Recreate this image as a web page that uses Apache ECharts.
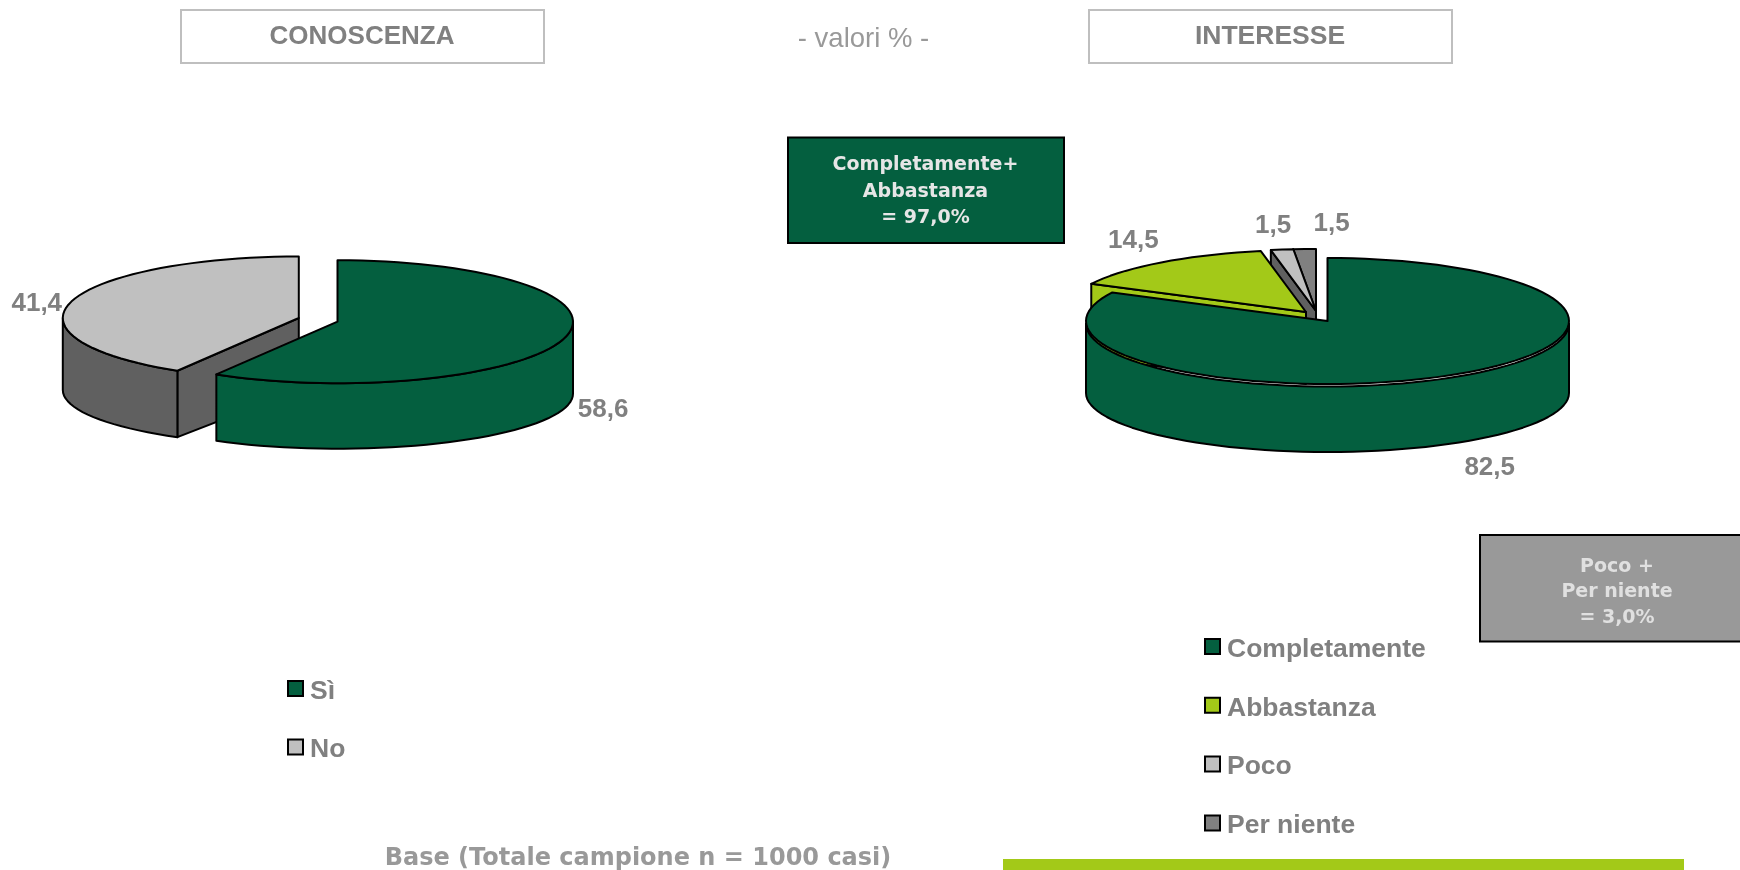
<!DOCTYPE html>
<html><head><meta charset="utf-8">
<style>html,body{margin:0;padding:0;background:#fff}#c{width:1740px;height:870px}</style>
<script src="https://cdn.jsdelivr.net/npm/echarts@6/dist/echarts.min.js"></script>
</head><body><div id="c"></div>
<script>
// ---- data ----
const conoscenzaCategories = ['Sì', 'No'];
const conoscenzaValues = [58.6, 41.4];
const interesseCategories = ['Completamente', 'Abbastanza', 'Poco', 'Per niente'];
const interesseValues = [82.5, 14.5, 1.5, 1.5];

// ---- styles and layout ----
const GREEN = '#045F3F', LIME = '#A3C918', LIGHT = '#C0C0C0', MID = '#808080';
const TXT = '#808080';
const FONT = '"Liberation Sans", Arial, sans-serif';
const BOXFONT = '"DejaVu Sans", Verdana, sans-serif';

const conoscenzaLayout = [
  {color: GREEN, wall: GREEN, cut: GREEN, cx: 337.5, cy: 321.7, rx: 235.5, ry: 61.5, ryB: 55, depth: 72, gap: 0, lx: 38.6, ly: 72, order: 2},
  {color: LIGHT, wall: '#606060', cut: '#606060', cx: 298.8, cy: 318, rx: 236, ry: 61.5, ryB: 55, depth: 72, gap: 0, lx: -34.6, ly: 2, order: 1}
];
const interesseLayout = [
  {color: GREEN, wall: GREEN, cut: GREEN, cx: 1327.5, cy: 321, rx: 241.5, ry: 63, ryB: 59, depth: 72, gap: 2.5, lx: 36, ly: 93, order: 4},
  {color: LIME, wall: LIME, cut: LIME, cx: 1306, cy: 312, rx: 241, ry: 62, ryB: 56, depth: 72, gap: 0, lx: -28, ly: -22, order: 3},
  {color: LIGHT, wall: '#606060', cut: '#606060', cx: 1316, cy: 311, rx: 241, ry: 62, ryB: 56, depth: 72, gap: 0, lx: -9, ly: -24, order: 2},
  {color: MID, wall: '#404040', cut: '#404040', cx: 1316, cy: 311, rx: 241, ry: 62, ryB: 56, depth: 72, gap: 0, lx: 27, ly: -25, order: 1}
];

// ---- geometry from values ----
const RAD = Math.PI / 180;
const topPt = (l, t, extra) => [l.cx + l.rx * Math.sin(t * RAD), l.cy + (extra || 0) - l.ry * Math.cos(t * RAD)];
const botPt = (l, t) => [l.cx + l.rx * Math.sin(t * RAD), l.cy + l.depth - l.ryB * Math.cos(t * RAD)];
function arc(fn, a, b) {
  const pts = [], n = Math.max(1, Math.ceil((b - a) / 3));
  for (let i = 0; i <= n; i++) pts.push(fn(a + (b - a) * i / n));
  return pts;
}
const fmt = v => v.toFixed(1).replace('.', ',');
const stroke = fill => ({fill: fill, stroke: '#000', lineWidth: 2, lineJoin: 'round'});

function sliceSeries(name, values, layouts, idx) {
  const total = values.reduce((s, v) => s + v, 0);
  const before = values.slice(0, idx).reduce((s, v) => s + v, 0);
  const a = before / total * 360, b = (before + values[idx]) / total * 360;
  const l = layouts[idx];
  return {
    type: 'custom', name: name, coordinateSystem: 'none', z: 2 + l.order / 10, silent: true,
    itemStyle: {color: l.color}, animation: false,
    data: [[values[idx]]],
    renderItem: function () {
      const children = [];
      const tip = [l.cx, l.cy], tipB = [l.cx, l.cy + l.depth];
      // visible cut walls
      [[a, -Math.sin(a * RAD) > 1e-6], [b, Math.sin(b * RAD) > 1e-6]].forEach(e => {
        if (e[1]) children.push({type: 'polygon', shape: {points: [tip, topPt(l, e[0]), botPt(l, e[0]), tipB]}, style: stroke(l.cut)});
      });
      // outer wall, front half only
      const w0 = Math.max(a, 90), w1 = Math.min(b, 270);
      if (w1 > w0) {
        const pts = arc(t => topPt(l, t, l.gap), w0, w1).concat(arc(t => botPt(l, t), w0, w1).reverse());
        children.push({type: 'polygon', shape: {points: pts}, style: stroke(l.wall)});
      }
      // top face
      children.push({type: 'polygon', shape: {points: [tip].concat(arc(t => topPt(l, t), a, b))}, style: stroke(l.color)});
      // value label next to the rim at the mid angle
      const m = topPt(l, (a + b) / 2);
      children.push({type: 'text', style: {text: fmt(values[idx]), x: m[0] + l.lx, y: m[1] + l.ly, textAlign: 'center', textVerticalAlign: 'middle',
        font: 'bold 26px ' + FONT, fill: TXT}});
      return {type: 'group', children: children};
    }
  };
}

const series = [];
conoscenzaCategories.forEach((c, i) => series.push(sliceSeries(c, conoscenzaValues, conoscenzaLayout, i)));
interesseCategories.forEach((c, i) => series.push(sliceSeries(c, interesseValues, interesseLayout, i)));

function legendOf(cats, left, top, gap) {
  return {
    data: cats, orient: 'vertical', left: left, top: top, padding: 0, itemGap: gap, selectedMode: false,
    icon: 'rect', itemWidth: 15, itemHeight: 15,
    itemStyle: {borderColor: '#000', borderWidth: 2},
    formatter: name => '{a|' + name + '}',
    textStyle: {rich: {a: {fontFamily: FONT, fontWeight: 'bold', fontSize: 26.5, color: TXT, lineHeight: 30, padding: [6, 0, 0, 2]}}}
  };
}

function box(x, y, w, h, fill, line, lw) {
  return {type: 'rect', silent: true, shape: {x: x, y: y, width: w, height: h}, style: {fill: fill, stroke: line, lineWidth: lw}};
}
function label(text, x, y, font, fill, lh) {
  return {type: 'text', silent: true, z: 10, style: {text: text, x: x, y: y, textAlign: 'center', textVerticalAlign: 'middle', font: font, fill: fill, lineHeight: lh}};
}

const chart = echarts.init(document.getElementById('c'), null, {renderer: 'canvas'});
chart.setOption({
  animation: false,
  backgroundColor: '#fff',
  legend: [legendOf(conoscenzaCategories, 287, 672, 25.5), legendOf(interesseCategories, 1204, 630, 25.8)],
  series: series,
  graphic: [
    box(181, 10, 363, 53, '#fff', '#BFBFBF', 2),
    label('CONOSCENZA', 362, 36.5, 'bold 26px ' + FONT, TXT),
    label('- valori % -', 863.5, 39.5, '27.5px ' + FONT, '#999999'),
    box(1089, 10, 363, 53, '#fff', '#BFBFBF', 2),
    label('INTERESSE', 1270, 36.5, 'bold 26.5px ' + FONT, TXT),
    box(788, 137.5, 276, 105.5, GREEN, '#000', 2),
    label('Completamente+\nAbbastanza\n= 97,0%', 925.5, 192, 'bold 19px ' + BOXFONT, '#E6E6E6', 26.5),
    box(1480, 535, 270, 106.5, '#999999', '#000', 2),
    label('Poco +\nPer niente\n= 3,0%', 1617, 592.5, 'bold 19px ' + BOXFONT, '#E0E0E0', 25.5),
    label('Base (Totale campione n = 1000 casi)', 638, 859, 'bold 24px ' + BOXFONT, '#999999'),
    {type: 'rect', silent: true, shape: {x: 1003, y: 859, width: 681, height: 11}, style: {fill: '#A3C918'}}
  ]
});
</script></body></html>
